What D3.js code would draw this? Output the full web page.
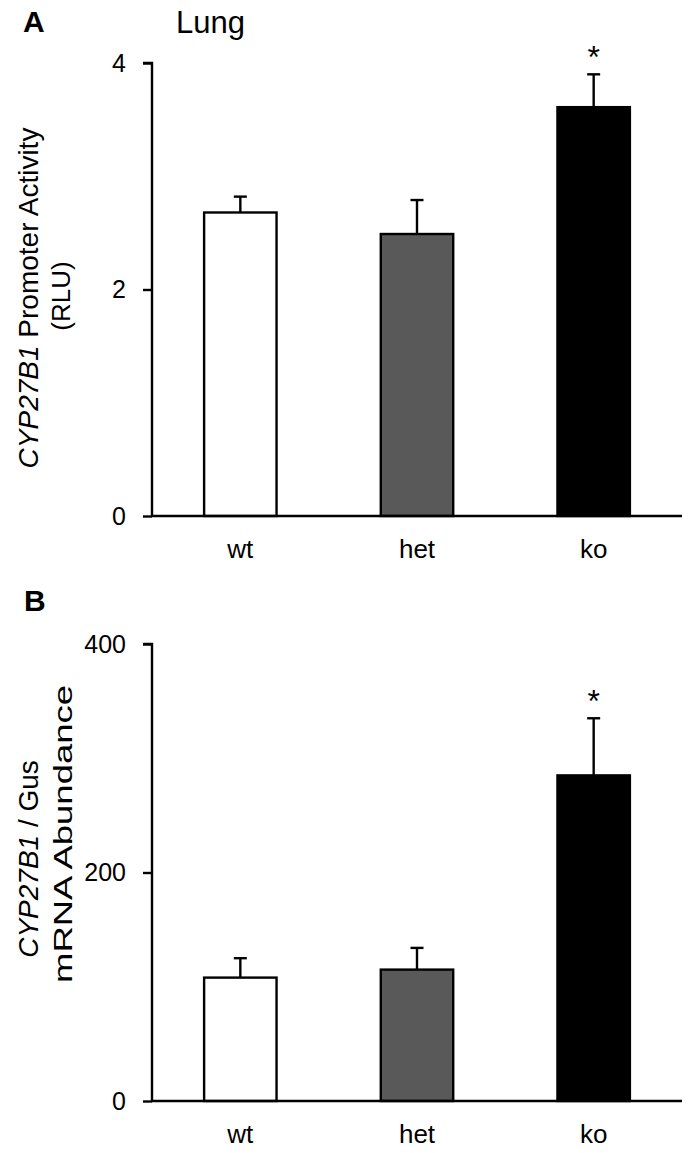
<!DOCTYPE html>
<html><head><meta charset="utf-8">
<script src="https://cdn.jsdelivr.net/npm/d3@7/dist/d3.min.js"></script>
<style>body{margin:0;background:#fff}svg{display:block}text{font-family:"Liberation Sans",Arial,sans-serif;fill:#000}</style>
</head><body><svg id="c" width="691" height="1153"></svg>
<script>
const categories = ["wt","het","ko"];
const fills = ["#ffffff","#595959","#000000"];
const promoterMean = [2.68, 2.49, 3.61];
const promoterErr = [0.14, 0.30, 0.29];
const promoterTicks = [0, 2, 4];
const mrnaMean = [108, 115, 285];
const mrnaErr = [17, 19, 50];
const mrnaTicks = [0, 200, 400];
const sig = [false, false, true];

const svg = d3.select("#c");
const x = d3.scaleBand().domain(categories).range([152, 682]).paddingInner(0.59).paddingOuter(0.295);

function panel(o){
  const y = d3.scaleLinear().domain(o.domain).range(o.range);
  const g = svg.append("g");
  const data = categories.map((c,i)=>({c, v:o.mean[i], e:o.err[i], f:fills[i], s:sig[i]}));
  g.selectAll(".eb").data(data).join("line")
    .attr("x1", d=>x(d.c)+x.bandwidth()/2).attr("x2", d=>x(d.c)+x.bandwidth()/2)
    .attr("y1", d=>y(d.v)).attr("y2", d=>y(d.v+d.e)).attr("stroke","#000").attr("stroke-width",2.4);
  g.selectAll(".cap").data(data).join("line")
    .attr("x1", d=>x(d.c)+x.bandwidth()/2-6.5).attr("x2", d=>x(d.c)+x.bandwidth()/2+6.5)
    .attr("y1", d=>y(d.v+d.e)).attr("y2", d=>y(d.v+d.e)).attr("stroke","#000").attr("stroke-width",2.4);
  g.selectAll(".bar").data(data).join("rect")
    .attr("x", d=>x(d.c)).attr("width", x.bandwidth())
    .attr("y", d=>y(d.v)).attr("height", d=>y(0)-y(d.v))
    .attr("fill", d=>d.f).attr("stroke","#000").attr("stroke-width",2.4);
  g.selectAll(".ast").data(data.filter(d=>d.s)).join("text")
    .attr("x", d=>x(d.c)+x.bandwidth()/2).attr("y", d=>y(d.v+d.e)-6)
    .attr("text-anchor","middle").attr("font-size",32).text("*");
  const ya = g.append("g").attr("transform","translate(152,0)")
    .call(d3.axisLeft(y).tickValues(o.ticks).tickSize(9).tickPadding(17).tickFormat(d3.format("d")));
  ya.select(".domain").attr("stroke-width",2.4).attr("d", `M-9,${y(o.domain[1])}H0V${y(0)}`);
  ya.selectAll(".tick line").attr("stroke-width",2.4);
  ya.selectAll("text").attr("font-size",25).attr("font-family","Liberation Sans, Arial, sans-serif");
  const xa = g.append("g").attr("transform",`translate(0,${y(0)})`)
    .call(d3.axisBottom(x).tickSize(0).tickPadding(24));
  xa.select(".domain").attr("stroke-width",2.4).attr("d","M152,0H682");
  xa.selectAll("text").attr("font-size",26).attr("font-family","Liberation Sans, Arial, sans-serif");
  o.ylab.forEach(l=>{
    const t = svg.append("text").attr("transform",`translate(${l.x},${l.cy}) rotate(-90)`)
      .attr("text-anchor","middle").attr("font-size",l.fs);
    if (l.len) t.attr("textLength", l.len).attr("lengthAdjust","spacingAndGlyphs");
    l.parts.forEach(p=>t.append("tspan").attr("font-style",p[1]?"italic":"normal").text(p[0]));
  });
}

panel({domain:[0,4], range:[516,63], mean:promoterMean, err:promoterErr, ticks:promoterTicks,
  ylab:[{x:38, cy:298, fs:28, parts:[["CYP27B1",true],[" Promoter Activity",false]]},
        {x:70, cy:296, fs:26, parts:[["(RLU)",false]]}]});
panel({domain:[0,400], range:[1101,644], mean:mrnaMean, err:mrnaErr, ticks:mrnaTicks,
  ylab:[{x:38, cy:859, fs:28, parts:[["CYP27B1",true],[" / Gus",false]]},
        {x:72, cy:834, fs:26, len:298, parts:[["mRNA Abundance",false]]}]});

svg.append("text").attr("x",23).attr("y",32).attr("font-size",30).attr("font-weight","bold").text("A");
svg.append("text").attr("x",24).attr("y",611).attr("font-size",30).attr("font-weight","bold").text("B");
svg.append("text").attr("x",176).attr("y",33).attr("font-size",31).text("Lung");
</script></body></html>
